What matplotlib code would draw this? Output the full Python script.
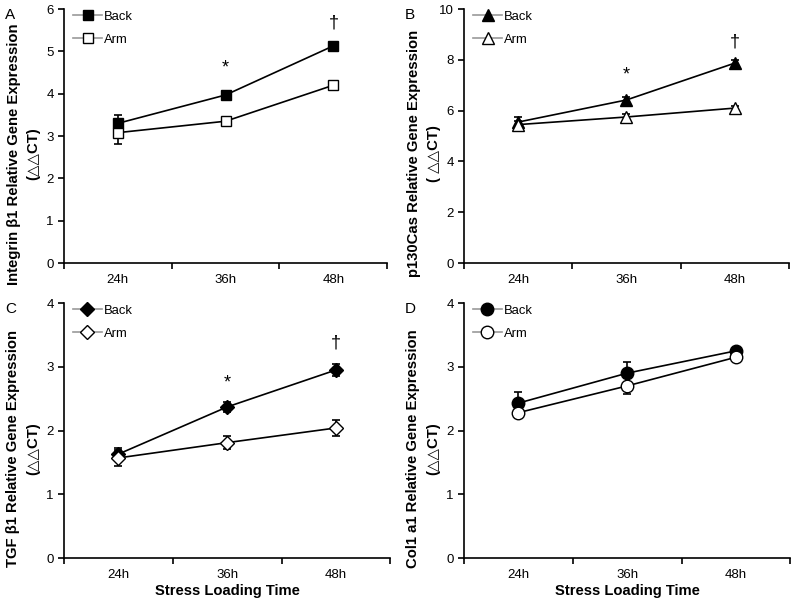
import numpy as np
import matplotlib.pyplot as plt
from matplotlib.lines import Line2D

plt.rcParams['font.family'] = ['Liberation Sans', 'DejaVu Sans']

times = ['24h', '36h', '48h']

# Panel A - Integrin b1
a_back = [3.30, 3.97, 5.13]
a_back_err = [0.20, 0.10, 0.10]
a_arm = [3.08, 3.35, 4.20]
a_arm_err = [0.26, 0.06, 0.06]

# Panel B - p130Cas
b_back = [5.55, 6.42, 7.87]
b_back_err = [0.20, 0.12, 0.12]
b_arm = [5.45, 5.75, 6.10]
b_arm_err = [0.15, 0.10, 0.10]

# Panel C - TGF b1
c_back = [1.63, 2.37, 2.95]
c_back_err = [0.10, 0.08, 0.10]
c_arm = [1.57, 1.81, 2.04]
c_arm_err = [0.13, 0.10, 0.12]

# Panel D - Col1 a1
d_back = [2.43, 2.90, 3.25]
d_back_err = [0.17, 0.17, 0.05]
d_arm = [2.28, 2.70, 3.15]
d_arm_err = [0.08, 0.13, 0.05]

panels = [
    dict(letter='A', back=a_back, be=a_back_err, arm=a_arm, ae=a_arm_err,
         marker='s', ms=7.8, ymax=6, ystep=1,
         ylabel='Integrin β1 Relative Gene Expression\n(△△CT)',
         star=4.6, dagger=5.67, rect=[0.08, 0.5638, 0.404, 0.4212]),
    dict(letter='B', back=b_back, be=b_back_err, arm=b_arm, ae=b_arm_err,
         marker='^', ms=8.5, ymax=10, ystep=2,
         ylabel='p130Cas Relative Gene Expression\n( △△CT)',
         star=7.4, dagger=8.7, rect=[0.58, 0.5638, 0.406, 0.4212]),
    dict(letter='C', back=c_back, be=c_back_err, arm=c_arm, ae=c_arm_err,
         marker='D', ms=7, ymax=4, ystep=1,
         ylabel='TGF β1 Relative Gene Expression\n(△△CT)',
         star=2.74, dagger=3.37, rect=[0.08, 0.0746, 0.408, 0.4229]),
    dict(letter='D', back=d_back, be=d_back_err, arm=d_arm, ae=d_arm_err,
         marker='o', ms=9, ymax=4, ystep=1,
         ylabel='Col1 a1 Relative Gene Expression\n(△△CT)',
         star=None, dagger=None, rect=[0.58, 0.0746, 0.408, 0.4229]),
]

fig = plt.figure(figsize=(8, 6.03), dpi=100)
x = np.arange(len(times)) + 0.5

for p in panels:
    ax = fig.add_axes(p['rect'])
    ms = p['ms']
    ax.errorbar(x, p['back'], yerr=p['be'], color='black', marker=p['marker'],
                ms=ms, mfc='black', mec='black', lw=1.2, capsize=3,
                elinewidth=1.2, capthick=1.2, zorder=3)
    ax.errorbar(x, p['arm'], yerr=p['ae'], color='black', marker=p['marker'],
                ms=ms, mfc='white', mec='black', lw=1.2, capsize=3,
                elinewidth=1.2, capthick=1.2, zorder=3)
    if p['star'] is not None:
        ax.text(x[1], p['star'], '*', ha='center', va='center', fontsize=13)
        ax.text(x[2], p['dagger'], '†', ha='center', va='center', fontsize=13)

    ax.set_xlim(0, 3)
    ax.set_ylim(0, p['ymax'])
    ax.set_yticks(np.arange(0, p['ymax'] + 0.1, p['ystep']))
    ax.set_xticks([0, 1, 2, 3])
    ax.set_xticklabels([])
    ax.set_xticks(x, minor=True)
    ax.set_xticklabels(times, minor=True)
    ax.tick_params(axis='x', which='minor', length=0, pad=8, labelsize=9.5)
    ax.tick_params(axis='x', which='major', length=4, width=1.2)
    ax.tick_params(axis='y', length=4, width=1.2, labelsize=9.5)
    for s in ['top', 'right']:
        ax.spines[s].set_visible(False)
    ax.spines['left'].set_linewidth(1.2)
    ax.spines['bottom'].set_linewidth(1.2)

    ax.set_ylabel(p['ylabel'], fontsize=10.7, fontweight='bold',
                  linespacing=1.55)
    ax.yaxis.set_label_coords(-0.072, 0.43)
    if p['letter'] in ('C', 'D'):
        ax.set_xlabel('Stress Loading Time', fontsize=10.6, fontweight='bold',
                      labelpad=2)

    fig.text(p['rect'][0] - 59 / 800, p['rect'][1] + p['rect'][3] + 1 / 603,
             p['letter'], fontsize=11, ha='left', va='top')

    handles = [
        Line2D([0], [0], color='0.6', lw=1.2, marker=p['marker'], ms=ms,
               mfc='black', mec='black'),
        Line2D([0], [0], color='0.6', lw=1.2, marker=p['marker'], ms=ms,
               mfc='white', mec='black'),
    ]
    ax.legend(handles, ['Back', 'Arm'], loc='upper left',
              bbox_to_anchor=(-0.008, 1.04), frameon=False, fontsize=9.4,
              handlelength=2.2, handletextpad=0.15, labelspacing=0.85)

plt.savefig('out.png', dpi=100)
